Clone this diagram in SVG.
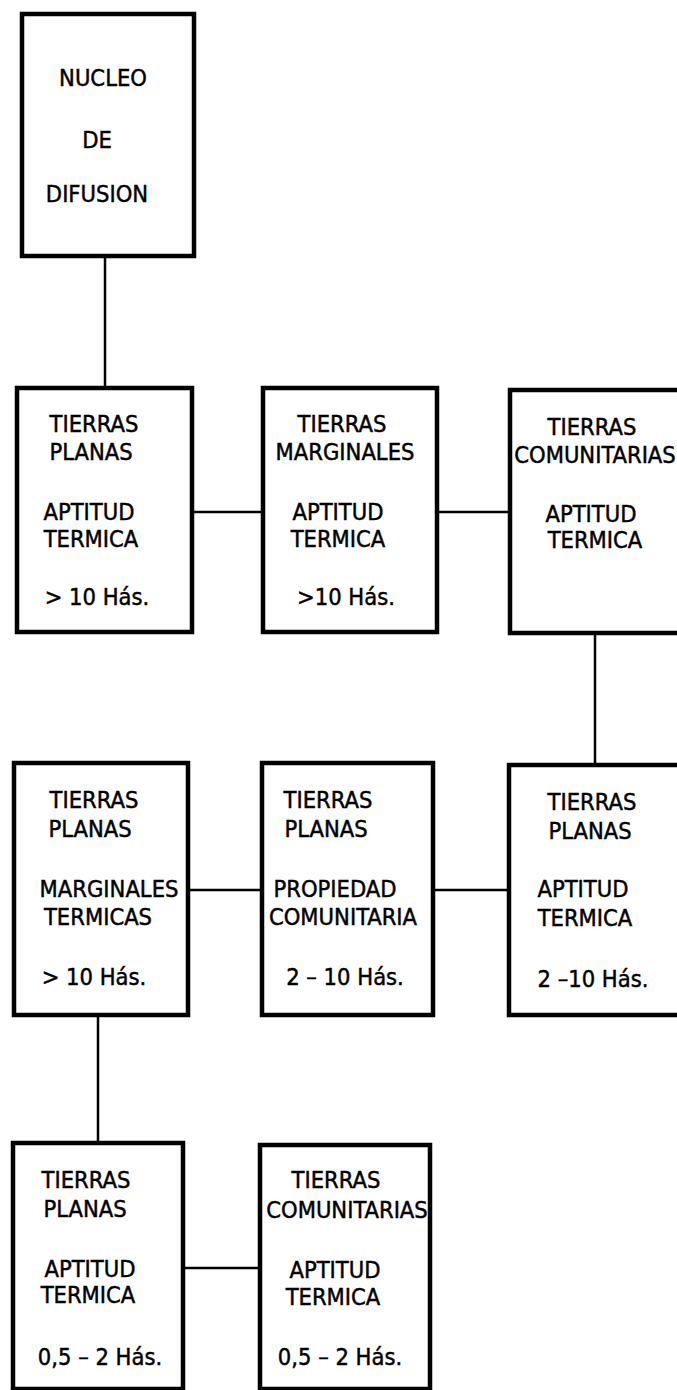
<svg xmlns="http://www.w3.org/2000/svg" width="677" height="1390" viewBox="0 0 677 1390">
<style>
.box{fill:#fff;stroke:#000;stroke-width:4.5}
.con line{stroke:#000;stroke-width:2.5}
text{font-family:"DejaVu Sans Condensed","DejaVu Sans",sans-serif;font-stretch:condensed;font-size:23.5px;fill:#000;stroke:#000;stroke-width:0.45;text-anchor:middle}
</style>
<rect width="677" height="1390" fill="#fff"/>
<g id="connectors" class="con">
<line x1="105" y1="257" x2="105" y2="388"/>
<line x1="192" y1="512" x2="263" y2="512"/>
<line x1="437" y1="512" x2="510" y2="512"/>
<line x1="595" y1="633" x2="595" y2="765"/>
<line x1="188" y1="890" x2="262" y2="890"/>
<line x1="433" y1="890" x2="509" y2="890"/>
<line x1="98" y1="1015" x2="98" y2="1143"/>
<line x1="183" y1="1268" x2="260" y2="1268"/>
</g>
<g id="n1">
<rect class="box" x="22" y="14" width="172" height="242"/>
<text x="103" y="86">NUCLEO</text>
<text x="97" y="148">DE</text>
<text x="97" y="202">DIFUSION</text>
</g>
<g id="n2a">
<rect class="box" x="17" y="388" width="175" height="244"/>
<text x="94" y="432">TIERRAS</text>
<text x="91" y="460">PLANAS</text>
<text x="89" y="520">APTITUD</text>
<text x="91" y="547">TERMICA</text>
<text x="97" y="605">&gt; 10 Hás.</text>
</g>
<g id="n2b">
<rect class="box" x="263" y="388" width="174" height="244"/>
<text x="342" y="432">TIERRAS</text>
<text x="345" y="460">MARGINALES</text>
<text x="338" y="520">APTITUD</text>
<text x="338" y="547">TERMICA</text>
<text x="346" y="605">&gt;10 Hás.</text>
</g>
<g id="n2c">
<rect class="box" x="510" y="390" width="180" height="243"/>
<text x="592" y="435">TIERRAS</text>
<text x="595" y="463">COMUNITARIAS</text>
<text x="591" y="522">APTITUD</text>
<text x="595" y="548">TERMICA</text>
</g>
<g id="n3a">
<rect class="box" x="14" y="763" width="174" height="252"/>
<text x="94" y="808">TIERRAS</text>
<text x="90" y="837">PLANAS</text>
<text x="109" y="897">MARGINALES</text>
<text x="98" y="925">TERMICAS</text>
<text x="94" y="985">&gt; 10 Hás.</text>
</g>
<g id="n3b">
<rect class="box" x="262" y="763" width="171" height="252"/>
<text x="328" y="808">TIERRAS</text>
<text x="326" y="837">PLANAS</text>
<text x="335" y="897">PROPIEDAD</text>
<text x="343" y="925">COMUNITARIA</text>
<text x="345" y="985">2 – 10  Hás.</text>
</g>
<g id="n3c">
<rect class="box" x="509" y="765" width="181" height="250"/>
<text x="592" y="810">TIERRAS</text>
<text x="590" y="839">PLANAS</text>
<text x="583" y="897">APTITUD</text>
<text x="585" y="926">TERMICA</text>
<text x="593" y="987">2 –10  Hás.</text>
</g>
<g id="n4a">
<rect class="box" x="13" y="1143" width="170" height="246"/>
<text x="86" y="1188">TIERRAS</text>
<text x="85" y="1217">PLANAS</text>
<text x="90" y="1277">APTITUD</text>
<text x="88" y="1303">TERMICA</text>
<text x="100" y="1365">0,5 – 2 Hás.</text>
</g>
<g id="n4b">
<rect class="box" x="260" y="1145" width="170" height="244"/>
<text x="336" y="1188">TIERRAS</text>
<text x="347" y="1218">COMUNITARIAS</text>
<text x="335" y="1278">APTITUD</text>
<text x="333" y="1305">TERMICA</text>
<text x="340" y="1365">0,5 – 2 Hás.</text>
</g>
</svg>
